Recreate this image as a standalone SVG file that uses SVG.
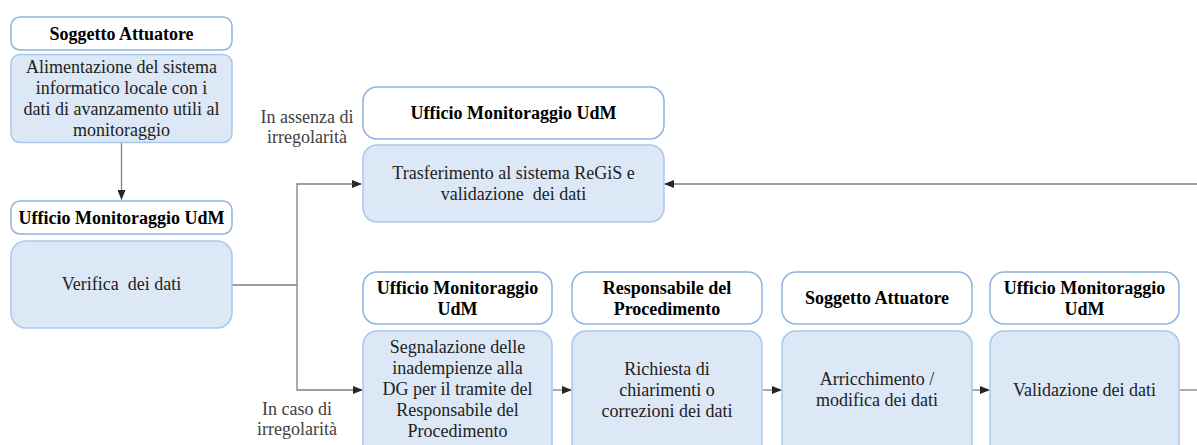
<svg xmlns="http://www.w3.org/2000/svg" width="1197" height="445" viewBox="0 0 1197 445">
<defs>
<marker id="arr" markerWidth="10" markerHeight="8" refX="9" refY="4" orient="auto" markerUnits="userSpaceOnUse">
<path d="M0,0 L10,4 L0,8 Z" fill="#262626"/>
</marker>
</defs>
<style>
.hd{fill:#ffffff;stroke:#8fb3e0;stroke-width:1.5}
.bd{fill:#dce8f5;stroke:#a9c8ea;stroke-width:1.5}
text{font-family:'Liberation Serif','Times New Roman','DejaVu Serif',serif}
.ht{font-weight:bold;font-size:18px;fill:#000;text-anchor:middle}
.bt{font-size:18px;fill:#222222;text-anchor:middle}
.lt{font-size:18px;fill:#404040;text-anchor:middle}
.cn{fill:none;stroke:#7f7f7f;stroke-width:1.3}
</style>
<rect width="1197" height="445" fill="#ffffff"/>
<g id="connectors">
<path class="cn" d="M121.5,143 V199" marker-end="url(#arr)"/>
<path class="cn" d="M232,285 H297"/>
<path class="cn" d="M297,285 V184 H361" marker-end="url(#arr)"/>
<path class="cn" d="M297,285 V390 H362" marker-end="url(#arr)"/>
<path class="cn" d="M553,390 H571" marker-end="url(#arr)"/>
<path class="cn" d="M763,390 H781" marker-end="url(#arr)"/>
<path class="cn" d="M972,390 H989" marker-end="url(#arr)"/>
<path class="cn" d="M1180,390 H1197"/>
<path class="cn" d="M1197,184 H665" marker-end="url(#arr)"/>
</g>
<g id="n1">
<rect class="hd" x="11" y="17" width="221" height="33" rx="9"/>
<text class="ht" x="121.5" y="39.5">Soggetto Attuatore</text>
<rect class="bd" x="11" y="54.5" width="221" height="88" rx="9"/>
<text class="bt" x="121.5" y="73">Alimentazione del sistema</text>
<text class="bt" x="121.5" y="94">informatico locale con i</text>
<text class="bt" x="121.5" y="115">dati di avanzamento utili al</text>
<text class="bt" x="121.5" y="136">monitoraggio</text>
</g>
<g id="n2">
<rect class="hd" x="11" y="201" width="221" height="33" rx="9"/>
<text class="ht" x="121.5" y="224">Ufficio Monitoraggio UdM</text>
<rect class="bd" x="11" y="241" width="221" height="87" rx="15"/>
<text class="bt" x="121.5" y="290" xml:space="preserve">Verifica  dei dati</text>
</g>
<g id="n3">
<rect class="hd" x="363" y="87" width="301" height="52" rx="14"/>
<text class="ht" x="513.5" y="119">Ufficio Monitoraggio UdM</text>
<rect class="bd" x="363" y="145" width="301" height="77" rx="14"/>
<text class="bt" x="513.5" y="179">Trasferimento al sistema ReGiS e</text>
<text class="bt" x="513.5" y="200" xml:space="preserve">validazione  dei dati</text>
</g>
<g id="n4">
<rect class="hd" x="363" y="272" width="189" height="52" rx="14"/>
<text class="ht" x="457.5" y="294">Ufficio Monitoraggio</text>
<text class="ht" x="457.5" y="315">UdM</text>
<rect class="bd" x="363" y="331" width="189" height="130" rx="14"/>
<text class="bt" x="457.5" y="353">Segnalazione delle</text>
<text class="bt" x="457.5" y="374">inadempienze alla</text>
<text class="bt" x="457.5" y="395">DG per il tramite del</text>
<text class="bt" x="457.5" y="416">Responsabile del</text>
<text class="bt" x="457.5" y="437">Procedimento</text>
</g>
<g id="n5">
<rect class="hd" x="572" y="272" width="190" height="52" rx="14"/>
<text class="ht" x="667" y="294">Responsabile del</text>
<text class="ht" x="667" y="315">Procedimento</text>
<rect class="bd" x="572" y="331" width="190" height="130" rx="14"/>
<text class="bt" x="667" y="375">Richiesta di</text>
<text class="bt" x="667" y="396">chiarimenti o</text>
<text class="bt" x="667" y="417">correzioni dei dati</text>
</g>
<g id="n6">
<rect class="hd" x="782" y="272" width="190" height="52" rx="14"/>
<text class="ht" x="877" y="304">Soggetto Attuatore</text>
<rect class="bd" x="782" y="331" width="190" height="130" rx="14"/>
<text class="bt" x="877" y="385">Arricchimento /</text>
<text class="bt" x="877" y="406">modifica dei dati</text>
</g>
<g id="n7">
<rect class="hd" x="990" y="272" width="189" height="52" rx="14"/>
<text class="ht" x="1084.5" y="294">Ufficio Monitoraggio</text>
<text class="ht" x="1084.5" y="315">UdM</text>
<rect class="bd" x="990" y="331" width="189" height="130" rx="14"/>
<text class="bt" x="1084.5" y="396">Validazione dei dati</text>
</g>
<g id="labels">
<text class="lt" x="307" y="123">In assenza di</text>
<text class="lt" x="307" y="143">irregolarità</text>
<text class="lt" x="297" y="415">In caso di</text>
<text class="lt" x="297" y="435">irregolarità</text>
</g>
</svg>
